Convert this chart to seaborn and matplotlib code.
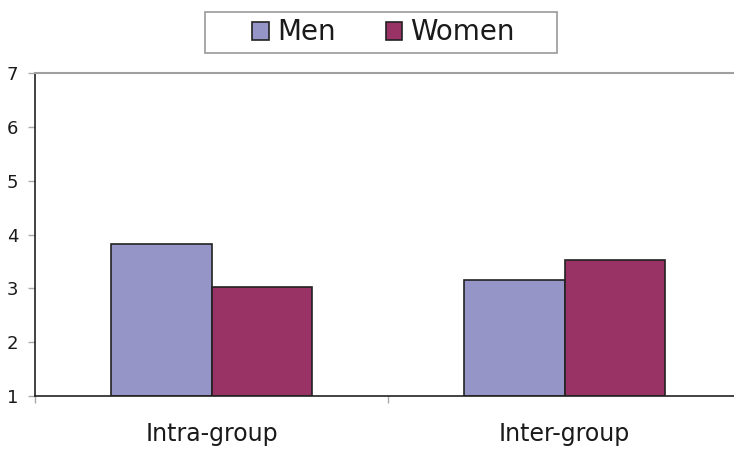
import matplotlib
matplotlib.use("Agg")
import matplotlib.pyplot as plt
import seaborn as sns
import pandas as pd

# Mean scores by comparison type and gender
groups = ["Intra-group", "Inter-group"]
men = [3.82, 3.16]
women = [3.03, 3.53]
series = ["Men", "Women"]
y_ticks = [1, 2, 3, 4, 5, 6, 7]

df = pd.DataFrame({
    "group": groups * 2,
    "gender": ["Men"] * len(groups) + ["Women"] * len(groups),
    "score": men + women,
})

sns.set_theme(style="white")
plt.rcParams["font.family"] = ["DejaVu Sans"]

W, H = 734, 450
fig = plt.figure(figsize=(W / 100, H / 100), dpi=100)
ax = fig.add_axes([35 / W, 1 - 396 / H, 706 / W, (396 - 73) / H])

palette = {"Men": "#9595C8", "Women": "#993366"}
sns.barplot(data=df, x="group", y="score", hue="gender", order=groups,
            hue_order=series, palette=palette, width=0.572, gap=0,
            edgecolor="#222222", linewidth=1.2, saturation=1, ax=ax,
            legend=False)

# value axis baseline is 1, so bars rise from the bottom spine
for p in ax.patches:
    y0 = p.get_y()
    h = p.get_height()
    p.set_y(1)
    p.set_height(y0 + h - 1)

ax.set_ylim(1, 7)
ax.set_yticks(y_ticks)
ax.set_xlim(-0.5, 1.5)
ax.set_xlabel("")
ax.set_ylabel("")

ax.tick_params(axis="y", which="major", direction="out", length=5,
               width=1, color="#aaaaaa", labelsize=13, labelcolor="#1a1a1a",
               left=True, pad=7)
ax.tick_params(axis="x", which="major", length=0, labelsize=17,
               labelcolor="#1a1a1a", pad=19)
ax.set_xticks([-0.5, 0.5, 1.5], minor=True)
ax.tick_params(axis="x", which="minor", direction="out", length=5,
               width=1, color="#aaaaaa", bottom=True)

for side in ["left", "bottom"]:
    ax.spines[side].set_color("#222222")
    ax.spines[side].set_linewidth(1.2)
ax.spines["top"].set_color("#a0a0a0")
ax.spines["top"].set_linewidth(1.5)
ax.spines["right"].set_visible(False)

# legend box
fig.patches.append(plt.Rectangle((205 / W, 1 - 53 / H), 352 / W, 41 / H,
                                 transform=fig.transFigure, facecolor="white",
                                 edgecolor="#999999", linewidth=1.2,
                                 zorder=0))

handles = [plt.Rectangle((0, 0), 1, 1, facecolor=palette[s],
                         edgecolor="#222222", linewidth=1.2) for s in series]
leg = fig.legend(handles, series, loc="center", ncol=2,
                 bbox_to_anchor=(383.5 / W, 1 - 32.5 / H), frameon=False,
                 fontsize=20, handlelength=0.6, handleheight=0.6,
                 handletextpad=0.3, columnspacing=1.8, borderpad=0,
                 borderaxespad=0)
for t in leg.get_texts():
    t.set_color("#1a1a1a")

fig.savefig("out.png", dpi=100, facecolor="white")
